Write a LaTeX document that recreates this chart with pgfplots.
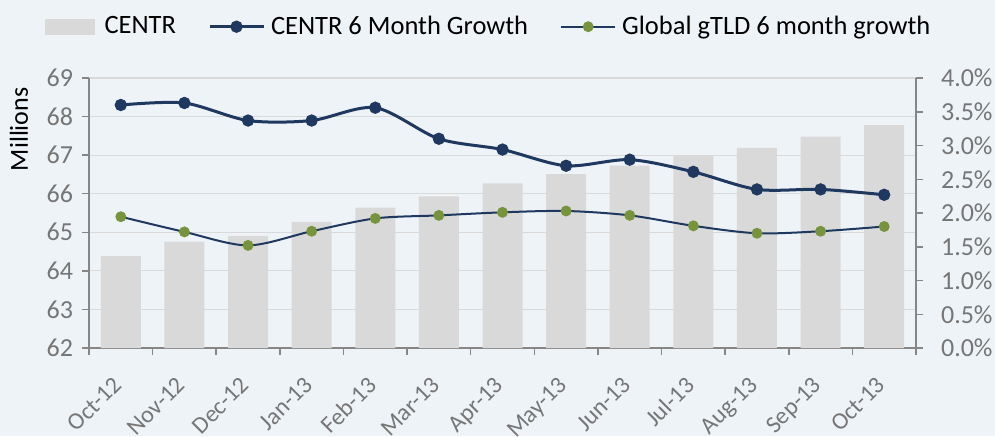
\documentclass[border=0pt]{standalone}
\usepackage{pgfplots}
\usepackage{pgfplotstable}
\pgfplotsset{compat=1.18}
\usepackage{fontspec}
\setmainfont{Carlito}
\definecolor{bgc}{RGB}{238,243,248}
\definecolor{gridc}{RGB}{217,217,217}
\definecolor{barc}{RGB}{217,217,217}
\definecolor{axc}{RGB}{134,134,134}
\definecolor{tickc}{RGB}{118,118,118}
\definecolor{navyc}{RGB}{31,56,96}
\definecolor{gtldc}{RGB}{119,147,60}
\pgfplotsset{
  mylinelegend/.style={legend image code/.code={\draw[mark repeat=2,mark phase=2,##1] plot coordinates {(0pt,0pt) (13.5pt,0pt) (27pt,0pt)};}},
  mybarlegend/.style={legend image code/.code={\fill[barc] (0pt,-4pt) rectangle (25pt,4pt); \path (27pt,0pt);}},
}
\pgfplotstableread{
x bar centr gtld
0 64.38 3.60 1.945
1 64.76 3.63 1.72
2 64.91 3.37 1.52
3 65.27 3.37 1.73
4 65.64 3.56 1.92
5 65.93 3.10 1.965
6 66.27 2.94 2.01
7 66.51 2.70 2.03
8 66.73 2.79 1.965
9 66.99 2.61 1.81
10 67.19 2.35 1.70
11 67.48 2.35 1.73
12 67.78 2.27 1.80
}\data
\begin{document}
\begin{tikzpicture}
\fill[bgc] (-44.5pt,-44pt) rectangle (453pt,174pt);
\begin{axis}[
  at={(0,0)}, anchor=south west,
  scale only axis, width=413.5pt, height=135pt,
  /pgf/number format/assume math mode=true,
  xmin=-0.5, xmax=12.5, ymin=62, ymax=69,
  axis y line*=left, axis x line*=bottom,
  axis line style={draw=axc, line width=0.75pt, -},
  xtick={0,1,2,3,4,5,6,7,8,9,10,11,12},
  xticklabels={Oct-12,Nov-12,Dec-12,Jan-13,Feb-13,Mar-13,Apr-13,May-13,Jun-13,Jul-13,Aug-13,Sep-13,Oct-13},
  xtick style={draw=none},
  extra x ticks={-0.5,0.5,1.5,2.5,3.5,4.5,5.5,6.5,7.5,8.5,9.5,10.5,11.5,12.5},
  extra x tick labels={},
  extra x tick style={grid=none, xtick style={draw=axc, line width=0.75pt}},
  ytick={62,63,64,65,66,67,68,69},
  ytick style={draw=axc, line width=0.75pt},
  tick align=outside, major tick length=3.5pt,
  ymajorgrids, grid style={draw=gridc, line width=0.6pt},
  xticklabel style={yshift=-10pt, xshift=-4.5pt, rotate=45, anchor=north east, inner sep=0pt, font=\fontsize{12}{14}\selectfont, text=tickc},
  yticklabel style={xshift=-1pt, font=\fontsize{13}{15}\selectfont, text=tickc},
  ylabel={Millions},
  every axis y label/.style={at={(axis description cs:-0.0846,0.81)}, rotate=90, anchor=center, font=\fontsize{13}{15}\selectfont},
  legend columns=3,
  legend style={draw=none, fill=none, at={(0.4855,1.19)}, anchor=center,
    font=\fontsize{13.25}{15}\selectfont, nodes={inner xsep=3pt},
    /tikz/every even column/.append style={column sep=13pt}},
]
\addplot[ybar, bar width=20pt, fill=barc, draw=none, mybarlegend]
  table[x=x,y=bar]{\data};
\addlegendentry{CENTR}
\addlegendimage{navyc, line width=1.5pt, mark=*, mark size=2.3pt, mylinelegend}
\addlegendentry{CENTR 6 Month Growth}
\addlegendimage{navyc, line width=1pt, mark=*, mark size=2.2pt, mark options={fill=gtldc, draw=gtldc}, mylinelegend}
\addlegendentry{Global gTLD 6 month growth}
\end{axis}
\begin{axis}[
  at={(0,0)}, anchor=south west,
  scale only axis, width=413.5pt, height=135pt,
  /pgf/number format/assume math mode=true,
  xmin=-0.5, xmax=12.5, ymin=0, ymax=4,
  axis y line*=right, axis x line=none,
  axis line style={draw=axc, line width=0.75pt, -},
  ytick={0,0.5,1,1.5,2,2.5,3,3.5,4},
  yticklabel={\pgfmathprintnumber[fixed,fixed zerofill,precision=1]{\tick}\%},
  ytick style={draw=axc, line width=0.75pt},
  tick align=outside, major tick length=3.5pt,
  yticklabel style={xshift=5.5pt, font=\fontsize{13}{15}\selectfont, text=tickc},
]
\addplot[navyc, line width=1.5pt, smooth, mark=*, mark size=2.3pt] table[x=x,y=centr]{\data};
\addplot[navyc, line width=1pt, smooth, mark=*, mark size=2.2pt, mark options={fill=gtldc, draw=gtldc}] table[x=x,y=gtld]{\data};
\end{axis}
\pgfresetboundingbox
\path[use as bounding box] (-44.5pt,-44pt) rectangle (453pt,174pt);
\end{tikzpicture}
\end{document}
